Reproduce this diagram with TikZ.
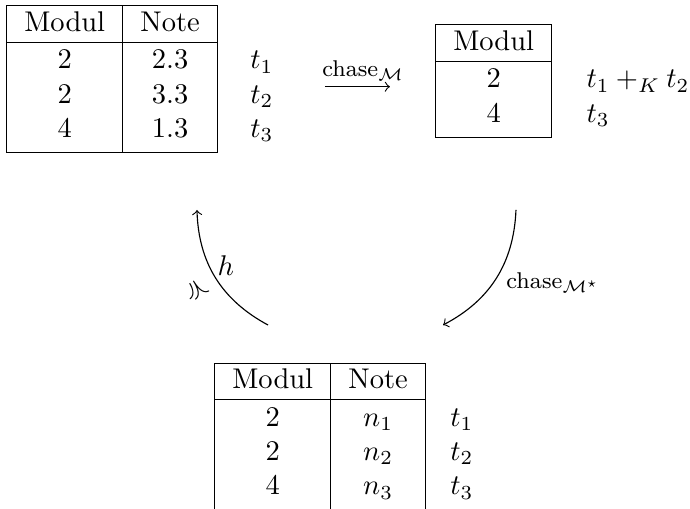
\documentclass[tikz,border=0pt]{standalone}
\usepackage{amsmath,amssymb,array}
\usetikzlibrary{arrows}

% Extra room next to the rules
\newcommand{\headstrut}{\rule{0pt}{9.2pt}}
\newcommand{\firststrut}{\rule{0pt}{9.6pt}}
\newcommand{\laststrut}{\rule[-5.2pt]{0pt}{5.2pt}}

\begin{document}
\begin{tikzpicture}[relation/.style={inner sep=0pt, anchor=north west}]

  \useasboundingbox (0,0) rectangle (8.509,-6.265);

  % Corners of the tables
  \coordinate (rel) at (0.068,-0.055);
  \coordinate (chased) at (5.358,-0.290);
  \coordinate (inst) at (2.633,-4.464);

  % Ends of the arrows
  \coordinate (chaseL) at (4.007,-1.069);
  \coordinate (chaseR) at (4.809,-1.069);
  \coordinate (hBot) at (3.305,-4.008);
  \coordinate (hTop) at (2.429,-2.589);
  \coordinate (starTop) at (6.363,-2.589);
  \coordinate (starBot) at (5.463,-4.008);

  % Tables
  \node[relation] (relTab) at (rel) {%
    \begin{tabular}{|c|c|@{}>{\hspace{11.3pt}}l}
      \cline{1-2}
      \headstrut Modul & Note & \\ \cline{1-2}
      \firststrut 2 & 2.3 & $t_1$ \\
      2 & 3.3 & $t_2$ \\
      \laststrut 4 & 1.3 & $t_3$ \\ \cline{1-2}
    \end{tabular}};
  \node[relation] (chasedTab) at (chased) {%
    \begin{tabular}{|c|@{}>{\hspace{12pt}}l}
      \cline{1-1}
      \headstrut Modul & \\ \cline{1-1}
      \firststrut 2 & $t_1 +_K t_2$ \\
      \laststrut 4 & $t_3$ \\ \cline{1-1}
    \end{tabular}};
  \node[relation] (instTab) at (inst) {%
    \begin{tabular}{|c|c|@{}>{\hspace{8.5pt}}l}
      \cline{1-2}
      \headstrut Modul & Note & \\ \cline{1-2}
      \firststrut 2 & $n_1$ & $t_1$ \\
      2 & $n_2$ & $t_2$ \\
      \laststrut 4 & $n_3$ & $t_3$ \\ \cline{1-2}
    \end{tabular}};

  % Arrows
  \draw[->] (chaseL) -- node[above, inner sep=2pt, xshift=2pt, font=\footnotesize] {chase$_{\mathcal{M}}$} (chaseR);
  \draw[->] (hBot) to[bend left=30]
    node[midway, sloped, below] {$\preccurlyeq$}
    node[midway, above right, inner sep=0.5pt] {$h$} (hTop);
  \draw[->] (starTop) to[bend left=30]
    node[midway, right, yshift=-1.5pt, font=\footnotesize] {chase$_{\mathcal{M}^\star}$} (starBot);

\end{tikzpicture}
\end{document}
